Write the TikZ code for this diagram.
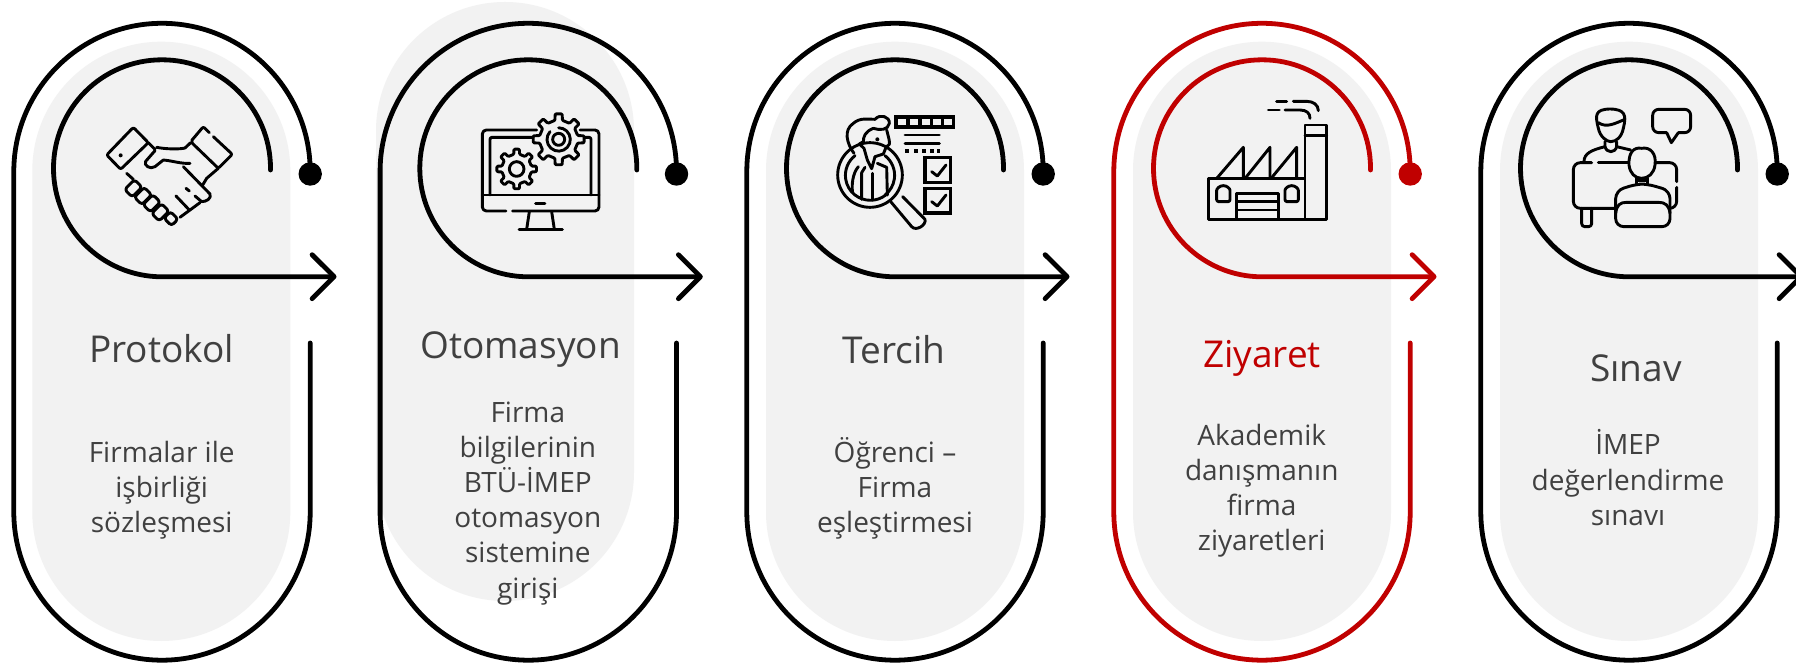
\documentclass[tikz,border=0pt]{standalone}
\usepackage{fontspec}
\setmainfont{Open Sans}
\usetikzlibrary{arrows.meta}
\definecolor{pillgray}{HTML}{F2F2F2}
\definecolor{inkred}{HTML}{C00000}
\definecolor{inkgray}{HTML}{404040}
\tikzset{
  pill/.style={fill=pillgray,rounded corners=129pt},
  track/.style={line width=4.8pt,line cap=round,line join=round},
  tip/.style={-{Straight Barb[length=22pt,width=44pt,round]}},
  dotnode/.style={circle,inner sep=0pt,minimum size=23.4pt},
  titletext/.style={anchor=base,font=\fontsize{37}{40}\selectfont,text=inkgray,inner sep=0pt},
  bodytext/.style={anchor=base,align=center,font=\fontsize{28}{35.2}\selectfont,text=inkgray,inner sep=0pt},
  icon/.style={line width=2.9pt,line cap=round,line join=round,black},
  thick icon/.style={line width=3.4pt,line cap=butt,line join=miter,black},
}
% gear: centre, outer radius, root radius, number of teeth
\newcommand{\gearshape}[4]{%
  \pgfmathsetmacro{\gstep}{360/#4}%
  \pgfmathsetmacro{\gend}{360-\gstep}%
  \pgfmathsetmacro{\gsecond}{\gstep}%
  \draw[icon,fill=pillgray,rounded corners=1pt,shift={(#1)}] (-11:#3)
    \foreach \ga in {0,\gsecond,...,\gend}{
      -- ({\ga-11}:#3) -- ({\ga-8}:#2) -- ({\ga+8}:#2) -- ({\ga+11}:#3)
    } -- cycle;}
\newcommand{\fingerbox}[3]{\draw[icon,fill=pillgray,rounded corners=3pt,shift={(#1,#2)},rotate=-45] (-#3,-16) rectangle (#3,16);}
% column: index, centre x, colour
\newcommand{\trackcol}[3]{%
  \node[dotnode,fill=#3] (dot#1) at (#2+148.2,490) {};
  \coordinate (end#1) at (#2+148.2,321);
  \coordinate (inner#1) at (#2+108.5,494);
  \coordinate (tip#1) at (#2+174.5,387.3);
  \draw[track,#3] (dot#1.center) -- ++(0,2.5) arc[start angle=0,end angle=180,radius=148.2pt]
     -- (#2-148.2,152) arc[start angle=180,end angle=360,radius=148.2pt] -- (end#1);
  \draw[track,#3,tip] (inner#1) -- ++(0,1.7) arc[start angle=0,end angle=270,radius=108.5pt] -- (tip#1);
}
\begin{document}
\begin{tikzpicture}[x=1pt,y=1pt]
\useasboundingbox (0,0) rectangle (1796,664);
\fill[white] (0,0) rectangle (1796,664);
% pills
\fill[pill] (32.3,622.3) rectangle (290.3,23);
\fill[pill] (376,662) rectangle (634,63);
\fill[pill] (766,622.3) rectangle (1024,23);
\fill[pill] (1133,622.3) rectangle (1391,23);
\fill[pill] (1500,622.3) rectangle (1758,23);
% tracks
\trackcol{1}{162}{black}
\trackcol{2}{528.3}{black}
\trackcol{3}{895}{black}
\trackcol{4}{1262}{inkred}
\trackcol{5}{1629}{black}
% titles
\node[titletext] (t1) at (161.7,301) {Protokol};
\node[titletext] (t2) at (520.5,305) {Otomasyon};
\node[titletext] (t3) at (894,300.3) {Tercih};
\node[titletext,text=inkred] (t4) at (1262,296.3) {Ziyaret};
\node[titletext] (t5) at (1636,282) {Sınav};
% bodies (anchored at the baseline of the last line)
\node[bodytext] (b1) at (161.7,131) {Firmalar ile\\işbirliği\\sözleşmesi};
\node[bodytext] (b2) at (527.8,66) {Firma\\bilgilerinin\\BTÜ-İMEP\\otomasyon\\sistemine\\girişi};
\node[bodytext] (b3) at (895,131) {Öğrenci –\\Firma\\eşleştirmesi};
\node[bodytext] (b4) at (1261.7,113) {Akademik\\danışmanın\\firma\\ziyaretleri};
\node[bodytext] (b5) at (1628,138.7) {İMEP\\değerlendirme\\sınavı};
% icon 1: handshake
\begin{scope}[shift={(100,544)},xscale=1/3,yscale=-1/3]
\draw[icon,rounded corners=2pt] (100,22) -- (145,68) -- (62,148) -- (20,105) -- cycle;
\fill (62,106) circle[radius=6];
\draw[icon,rounded corners=2pt] (328,38) -- (310,20) -- (272,65) -- (355,145) -- (397,103) -- (340,50);
\draw[icon] (145,68) -- (165,88);
\draw[icon] (170,82) .. controls (200,88) and (240,88) .. (255,84) -- (272,68);
\draw[icon] (165,92) -- (137,124) .. controls (130,135) and (150,150) .. (165,140) -- (190,120) .. controls (215,122) and (245,132) .. (270,130);
\draw[icon] (250,140) -- (330,222) .. controls (335,235) and (320,245) .. (305,245) -- (285,228);
\draw[icon] (355,145) -- (320,175) -- (308,195);
\draw[icon] (258,205) -- (268,213);
\draw[icon] (228,228) -- (268,270);
\draw[icon] (300,248) -- (270,270) -- (240,292);
\draw[icon] (80,160) -- (100,178);
\fingerbox{100}{205}{21}
\fingerbox{129}{228}{21}
\fingerbox{155}{250}{21}
\fingerbox{181}{277}{21}
\fingerbox{213}{296}{14}
\end{scope}
% icon 2: monitor and gears
\begin{scope}[shift={(370,664)},xscale=1/3,yscale=-1/3]
\draw[icon,rounded corners=4pt] (500,390) -- (337,390) -- (337,633) -- (408,633);
\draw[icon,rounded corners=4pt] (428,633) -- (687,633) -- (687,390) -- (630,390);
\draw[icon,rounded corners=2pt] (490,412) -- (360,412) -- (360,585);
\draw[icon,rounded corners=2pt] (640,412) -- (663,412) -- (663,585);
\draw[icon] (337,585) -- (687,585);
\draw[icon] (497,610) -- (525,610);
\draw[icon] (478,635) -- (470,688);
\draw[icon] (545,635) -- (553,688);
\draw[icon] (447,688) -- (577,688);
\gearshape{566,418}{77}{58}{8}
\draw[icon] (566,418) circle[radius=18];
\draw[icon] (540,395) arc[start angle=222,end angle=-90,radius=35];
\gearshape{440,507}{60}{45}{8}
\draw[icon] (440,507) circle[radius=22];
\end{scope}
% icon 3: person, magnifier and checklist
\begin{scope}[shift={(830,554)},xscale=1/3,yscale=-1/3]
\draw[icon] (120,195) circle[radius=97];
\draw[icon] (75,137) arc[start angle=232,end angle=128,radius=75];
\draw[icon] (165,137) arc[start angle=-52,end angle=52,radius=75];
\draw[icon] (75,255) arc[start angle=128,end angle=52,radius=75];
\draw[icon] (183,276) -- (245,350) .. controls (258,365) and (290,345) .. (285,328) -- (218,260);
\draw[icon] (72,130) .. controls (50,100) and (40,60) .. (70,40) .. controls (90,22) and (115,28) .. (135,28) .. controls (150,10) and (180,20) .. (178,40) .. controls (175,60) and (150,62) .. (130,55);
\draw[icon] (130,55) .. controls (105,65) and (100,80) .. (100,95) -- (88,102) -- (102,115) -- (112,150);
\draw[icon] (170,60) .. controls (175,80) and (180,95) .. (178,103) -- (168,112) -- (160,132) -- (135,140);
\fill (142,88) circle[radius=6];
\draw[icon] (112,150) -- (125,176) -- (135,140);
\draw[icon] (105,172) -- (95,188) -- (95,268);
\draw[icon] (128,190) -- (128,270);
\draw[icon] (142,160) -- (170,172) -- (172,255);
\draw[icon] (85,170) .. controls (68,190) and (64,225) .. (68,248);
\fill[black] (193,16) rectangle (375,57);
\foreach \sq in {205,240,275,310,342}{\fill[pillgray] (\sq,26) rectangle ++(24,20);}
\draw[icon] (225,75) -- (328,75);
\draw[icon] (225,100) -- (328,100);
\foreach \sq in {226,252,277,300,320}{\fill[black] (\sq,117) rectangle ++(11,11);}
\draw[thick icon] (285,143) rectangle (362,217);
\draw[icon] (305,185) -- (322,198) -- (348,165);
\draw[thick icon] (285,235) rectangle (362,309);
\draw[icon] (305,275) -- (322,288) -- (348,255);
\end{scope}
% icon 4: factory
\begin{scope}[shift={(1100,664)},xscale=1/3,yscale=-1/3]
\draw[icon] (325,535) rectangle (615,658);
\draw[icon] (615,375) rectangle (680,658);
\draw[icon] (615,407) -- (680,407);
\draw[icon] (352,533) -- (430,442) -- (430,533);
\draw[icon] (437,533) -- (510,442) -- (510,533);
\draw[icon] (515,533) -- (590,442) -- (590,533);
\draw[icon,rounded corners=2pt] (350,605) -- (350,577) arc[start angle=180,end angle=360,radius=20] -- (390,605) -- cycle;
\draw[icon,rounded corners=2pt] (555,605) -- (555,577) arc[start angle=180,end angle=360,radius=20] -- (595,605) -- cycle;
\draw[icon] (410,655) -- (410,580) -- (535,580) -- (535,655);
\draw[icon] (410,605) -- (535,605);
\draw[icon] (410,630) -- (535,630);
\draw[icon] (505,330) -- (538,330);
\draw[icon] (530,304) -- (560,304);
\draw[icon] (555,330) -- (600,330) .. controls (620,330) and (630,340) .. (630,355);
\draw[icon] (580,304) -- (620,304) .. controls (640,304) and (655,315) .. (655,332);
\end{scope}
% icon 5: two people at a table
\begin{scope}[shift={(1470,664)},xscale=1/3,yscale=-1/3]
\draw[icon] (385,385) .. controls (375,345) and (375,328) .. (420,327) .. controls (465,328) and (470,345) .. (460,385);
\draw[icon] (385,368) .. controls (410,385) and (435,370) .. (465,358);
\draw[icon] (385,385) .. controls (390,410) and (410,425) .. (422,425) .. controls (440,425) and (455,410) .. (460,385);
\draw[icon] (405,425) -- (405,440) .. controls (410,460) and (435,460) .. (440,440) -- (440,425);
\draw[icon] (342,485) .. controls (342,460) and (365,450) .. (405,440);
\draw[icon] (440,440) -- (482,450);
\draw[icon,rounded corners=7pt] (365,488) -- (310,488) -- (310,625) -- (435,625);
\draw[icon] (385,488) -- (475,488);
\draw[icon,rounded corners=7pt] (555,488) -- (620,488) -- (620,545);
\draw[icon,rounded corners=7pt] (620,562) -- (620,625) -- (600,625);
\draw[icon,rounded corners=3pt] (335,625) -- (335,680) -- (365,680) -- (365,625);
\draw[icon,fill=pillgray] (515,445) .. controls (490,440) and (475,460) .. (477,495) .. controls (480,520) and (495,535) .. (515,535) .. controls (535,535) and (552,520) .. (555,495) .. controls (560,460) and (540,440) .. (515,445) -- cycle;
\draw[icon] (500,535) -- (500,552);
\draw[icon] (532,535) -- (532,552);
\draw[icon] (500,542) -- (532,542);
\draw[icon,fill=pillgray,rounded corners=8pt] (437,680) -- (437,572) -- (500,552) -- (532,552) -- (600,572) -- (600,680) -- cycle;
\draw[icon] (437,640) .. controls (440,615) and (450,607) .. (470,607) -- (565,607) .. controls (585,607) and (597,615) .. (600,640);
\draw[icon,rounded corners=6pt] (590,398) -- (548,398) -- (548,328) -- (662,328) -- (662,398) -- (625,398);
\draw[icon] (590,398) -- (604,428) -- (625,398);
\end{scope}
\end{tikzpicture}
\end{document}
